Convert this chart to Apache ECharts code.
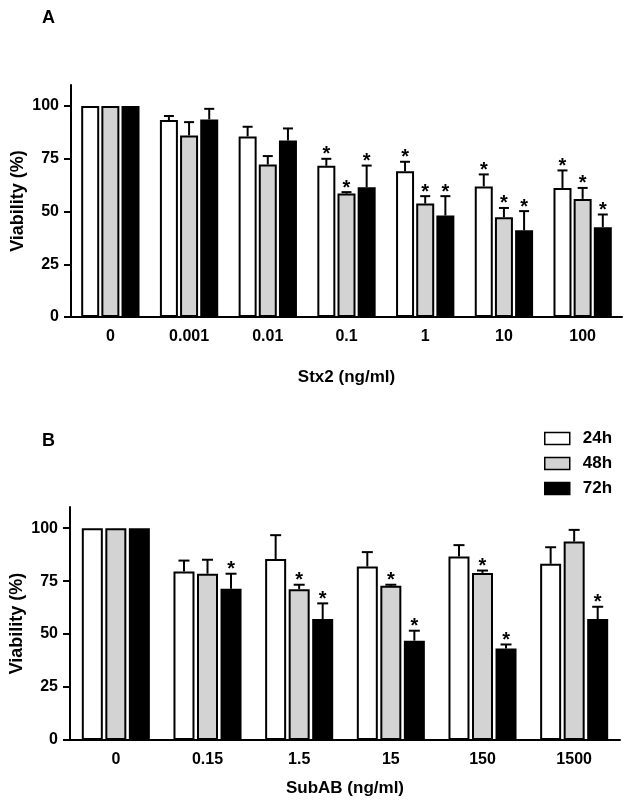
<!DOCTYPE html>
<html><head><meta charset="utf-8">
<script src="https://cdn.jsdelivr.net/npm/echarts@6/dist/echarts.min.js"></script>
<style>html,body{margin:0;padding:0;background:#fff}#c{width:631px;height:801px}</style>
</head><body><div id="c"></div>
<script>
// ---- Data ----
const categoriesA = ['0', '0.001', '0.01', '0.1', '1', '10', '100'];
const h24A = [100, 93.4, 85.6, 71.7, 69.1, 61.9, 61.2];
const h48A = [100, 86.1, 72.3, 58.5, 53.8, 47.3, 56.0];
const h72A = [100, 93.7, 83.7, 61.5, 48.1, 41.1, 42.6];
const err24A = [0, 1.9, 4.6, 3.3, 4.5, 5.7, 8.3];
const err48A = [0, 6.3, 4.0, 0.7, 3.5, 4.4, 5.2];
const err72A = [0, 5.0, 5.7, 10.3, 9.2, 9.1, 6.0];
const sig24A = [0, 0, 0, 1, 1, 1, 1];
const sig48A = [0, 0, 0, 1, 1, 1, 1];
const sig72A = [0, 0, 0, 1, 1, 1, 1];

const categoriesB = ['0', '0.15', '1.5', '15', '150', '1500'];
const h24B = [100, 79.6, 85.4, 81.9, 86.6, 83.2];
const h48B = [100, 78.5, 71.2, 72.8, 78.9, 93.7];
const h72B = [100, 71.4, 57.1, 46.9, 43.2, 57.1];
const err24B = [0, 5.1, 11.3, 6.8, 5.4, 7.8];
const err48B = [0, 6.6, 2.1, 0.5, 1.1, 5.5];
const err72B = [0, 7.1, 7.4, 4.7, 1.9, 5.8];
const sig24B = [0, 0, 0, 0, 0, 0];
const sig48B = [0, 0, 1, 1, 1, 0];
const sig72B = [0, 1, 1, 1, 1, 1];

const yTicks = [0, 25, 50, 75, 100];
const seriesNames = ['24h', '48h', '72h'];

// ---- Styling ----
const FONT = '"Liberation Sans Narrow", "Arial Narrow", "Liberation Sans", Arial, sans-serif';
const colors = ['#ffffff', '#d3d3d3', '#000000'];

function errData(means, errs, sigs) {
  return means.map((m, i) => [i, m, errs[i], sigs[i]]);
}

function errSeries(axisIdx, means, errs, sigs, pos, pitch, cap) {
  return {
    type: 'custom',
    xAxisIndex: axisIdx, yAxisIndex: axisIdx,
    z: 10, silent: true,
    data: errData(means, errs, sigs),
    renderItem: function (params, api) {
      const idx = api.value(0), m = api.value(1), e = api.value(2), s = api.value(3);
      const base = api.coord([idx, m]);
      const top = api.coord([idx, m + e]);
      const x = base[0] + (pos - 1) * pitch;
      const children = [];
      if (e > 0) {
        children.push({ type: 'line', shape: { x1: x, y1: base[1], x2: x, y2: top[1] }, style: { stroke: '#000', lineWidth: 2 } });
        children.push({ type: 'line', shape: { x1: x - cap / 2, y1: top[1], x2: x + cap / 2, y2: top[1] }, style: { stroke: '#000', lineWidth: 2 } });
      }
      if (s) {
        children.push({ type: 'text', x: x, y: top[1] + 6, style: { text: '*', fill: '#000', font: 'bold 20px ' + FONT, align: 'center', verticalAlign: 'bottom' } });
      }
      return { type: 'group', children: children };
    }
  };
}

function barSeries(axisIdx, name, data, ci, bw) {
  return {
    type: 'bar', name: name, xAxisIndex: axisIdx, yAxisIndex: axisIdx,
    data: data, barWidth: bw, barGap: '12%',
    itemStyle: { color: colors[ci], borderColor: '#000', borderWidth: 2 },
    silent: true
  };
}

const axisLabelStyle = { fontFamily: FONT, fontWeight: 'bold', fontSize: 16, color: '#000' };

function yAxis(gi) {
  return {
    type: 'value', gridIndex: gi, min: 0, max: 110, interval: 25,
    name: 'Viability (%)', nameLocation: 'middle', nameGap: 44, nameMoveOverlap: false,
    nameTextStyle: { fontFamily: FONT, fontWeight: 'bold', fontSize: 18, color: '#000' },
    axisLine: { show: true, lineStyle: { color: '#000', width: 2 } },
    axisTick: { show: true, length: 7, lineStyle: { color: '#000', width: 2 }, customValues: yTicks },
    axisLabel: Object.assign({ margin: 12, customValues: yTicks }, axisLabelStyle),
    splitLine: { show: false }
  };
}

function xAxis(gi, cats, name, gap) {
  return {
    type: 'category', gridIndex: gi, data: cats,
    name: name, nameLocation: 'middle', nameGap: gap,
    nameTextStyle: { fontFamily: FONT, fontWeight: 'bold', fontSize: 17, color: '#000' },
    axisLine: { lineStyle: { color: '#000', width: 2 } },
    axisTick: { show: false },
    axisLabel: Object.assign({ margin: 12 }, axisLabelStyle)
  };
}

const bwA = 18, bwB = 21;
const pitchA = bwA * 1.12, pitchB = bwB * 1.12;

const option = {
  animation: false,
  backgroundColor: '#fff',
  graphic: [
    { type: 'text', left: 42, top: 9, style: { text: 'A', font: 'bold 18px "Liberation Sans", Arial, sans-serif', fill: '#000' } },
    { type: 'text', left: 42, top: 432, style: { text: 'B', font: 'bold 18px "Liberation Sans", Arial, sans-serif', fill: '#000' } },
    { type: 'line', shape: { x1: 64, y1: 317, x2: 72, y2: 317 }, style: { stroke: '#000', lineWidth: 2 } },
    { type: 'line', shape: { x1: 63, y1: 740, x2: 71, y2: 740 }, style: { stroke: '#000', lineWidth: 2 } }
  ],
  legend: {
    data: seriesNames, orient: 'vertical', left: 539, top: 425, icon: 'rect',
    itemWidth: 25, itemHeight: 12, itemGap: 8,
    itemStyle: { borderWidth: 1.5, borderColor: '#000' },
    textStyle: { fontFamily: FONT, fontWeight: 'bold', fontSize: 17, color: '#000', padding: [0, 0, 0, 8] }
  },
  grid: [
    { left: 71, right: 9, top: 85, height: 232, containLabel: false, outerBoundsMode: 'none' },
    { left: 70, right: 11, top: 507, height: 233, containLabel: false, outerBoundsMode: 'none' }
  ],
  xAxis: [xAxis(0, categoriesA, 'Stx2 (ng/ml)', 52), xAxis(1, categoriesB, 'SubAB (ng/ml)', 40)],
  yAxis: [yAxis(0), yAxis(1)],
  series: [
    barSeries(0, '24h', h24A, 0, bwA),
    barSeries(0, '48h', h48A, 1, bwA),
    barSeries(0, '72h', h72A, 2, bwA),
    errSeries(0, h24A, err24A, sig24A, 0, pitchA, 10),
    errSeries(0, h48A, err48A, sig48A, 1, pitchA, 10),
    errSeries(0, h72A, err72A, sig72A, 2, pitchA, 10),
    barSeries(1, '24h', h24B, 0, bwB),
    barSeries(1, '48h', h48B, 1, bwB),
    barSeries(1, '72h', h72B, 2, bwB),
    errSeries(1, h24B, err24B, sig24B, 0, pitchB, 11),
    errSeries(1, h48B, err48B, sig48B, 1, pitchB, 11),
    errSeries(1, h72B, err72B, sig72B, 2, pitchB, 11)
  ]
};

const chart = echarts.init(document.getElementById('c'), null, { renderer: 'canvas' });
chart.setOption(option);
</script>
</body></html>
